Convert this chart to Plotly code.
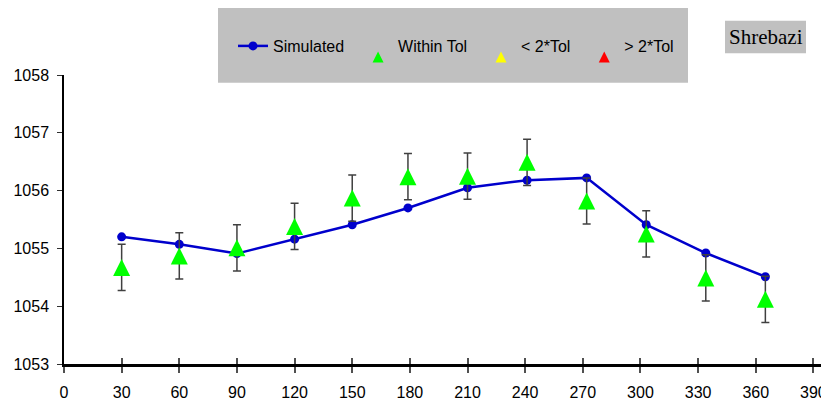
import plotly.graph_objects as go

# ---- data ----
days = [30, 60, 90, 120, 150, 179, 210, 241, 272, 303, 334, 365]
simulated = [1055.20, 1055.07, 1054.91, 1055.16, 1055.41, 1055.70,
             1056.05, 1056.18, 1056.22, 1055.41, 1054.92, 1054.51]
observed = [1054.67, 1054.87, 1055.01, 1055.38, 1055.87, 1056.24,
            1056.25, 1056.49, 1055.82, 1055.25, 1054.49, 1054.12]
tolerance = [0.40] * len(days)
x_ticks = list(range(0, 391, 30))
y_ticks = [1053, 1054, 1055, 1056, 1057, 1058]
series_names = ["Simulated", "Within Tol", "< 2*Tol", "> 2*Tol"]
station = "Shrebazi"

BLUE = "#0000CC"
GREEN = "#00FF00"
YELLOW = "#FFFF00"
RED = "#FF0000"
FONT = "Liberation Sans, Arial, sans-serif"
NB = "\u00a0"

# page body has an 8px margin: figure is drawn 8px in from the window corner
W, H, OFF = 821, 394, 8
PL, PT, PW, PH = 64, 75, 764, 289  # plot area in window pixels


def px_x(x):
    return (x - PL) / PW


def px_y(y):
    return (PT + PH - y) / PH


fig = go.Figure()

fig.add_trace(go.Scatter(
    x=days, y=simulated, mode="lines+markers", name=series_names[0] + NB * 2,
    line=dict(color=BLUE, width=2.5),
    marker=dict(color=BLUE, size=9, symbol="circle"),
))

# legend-only entries for the tolerance classes
for nm, col in [(series_names[1], GREEN), (series_names[2], YELLOW), (series_names[3], RED)]:
    fig.add_trace(go.Scatter(
        x=[None], y=[None], mode="markers", name=nm + NB * 2,
        marker=dict(color=col, size=11, symbol="arrow-down", angle=180, standoff=5.5,
                    line=dict(width=0)),
    ))

fig.add_trace(go.Scatter(
    x=days, y=observed, mode="markers", showlegend=False, name=series_names[1],
    marker=dict(color=GREEN, size=17, symbol="arrow-down", angle=180, standoff=8.5,
                line=dict(width=0)),
    error_y=dict(type="data", array=tolerance, visible=True,
                 color="#404040", thickness=1.5, width=4),
))

# invisible trace so the cross-tick overlay axis is drawn
fig.add_trace(go.Scatter(x=[None], y=[None], xaxis="x2", showlegend=False,
                         hoverinfo="skip"))

xr = [0, 397.6]
fig.update_layout(
    width=W, height=H,
    margin=dict(l=PL - OFF, r=W + OFF - PL - PW, t=PT - OFF, b=H + OFF - PT - PH),
    paper_bgcolor="white", plot_bgcolor="white",
    font=dict(family=FONT, size=16, color="black"),
    showlegend=True,
    legend=dict(
        orientation="h", xref="container", yref="container",
        x=(233 - OFF) / W, y=1 - (46 - OFF) / H, xanchor="left", yanchor="middle",
        bgcolor="rgba(0,0,0,0)", font=dict(family=FONT, size=16, color="black"),
        itemwidth=30, tracegroupgap=0,
    ),
    xaxis=dict(
        range=xr, tickvals=x_ticks, showgrid=False, zeroline=False,
        showline=True, linecolor="black", linewidth=2.5, automargin=False,
        ticks="outside", ticklen=6, tickwidth=1.5, tickcolor="#505050",
        ticklabelstandoff=6,
        tickfont=dict(family=FONT, size=16, color="black"),
    ),
    xaxis2=dict(
        range=xr, tickvals=x_ticks, overlaying="x", anchor="y", side="bottom",
        showgrid=False, zeroline=False, showline=False, showticklabels=False,
        automargin=False,
        ticks="inside", ticklen=6, tickwidth=1.5, tickcolor="#505050",
    ),
    yaxis=dict(
        range=[1053, 1058], tickvals=y_ticks, showgrid=False, zeroline=False,
        showline=True, linecolor="black", linewidth=1.5, automargin=False,
        ticks="outside", ticklen=5, tickwidth=1.2, tickcolor="#303030",
        ticklabelstandoff=5,
        tickfont=dict(family=FONT, size=16, color="black"),
    ),
    shapes=[
        dict(type="rect", xref="paper", yref="paper",
             x0=px_x(218), x1=px_x(688), y0=px_y(82.7), y1=px_y(8),
             fillcolor="#C0C0C0", line=dict(width=0), layer="below"),
        dict(type="rect", xref="paper", yref="paper",
             x0=px_x(725), x1=px_x(806), y0=px_y(53.3), y1=px_y(20.7),
             fillcolor="#C0C0C0", line=dict(width=0), layer="below"),
    ],
    annotations=[dict(
        text=station, xref="paper", yref="paper",
        x=px_x(765.5), y=px_y(37), xanchor="center", yanchor="middle",
        showarrow=False, borderpad=0,
        font=dict(family="Liberation Serif, Times New Roman, serif", size=21, color="black"),
    )],
)

fig.write_html("out.html")
